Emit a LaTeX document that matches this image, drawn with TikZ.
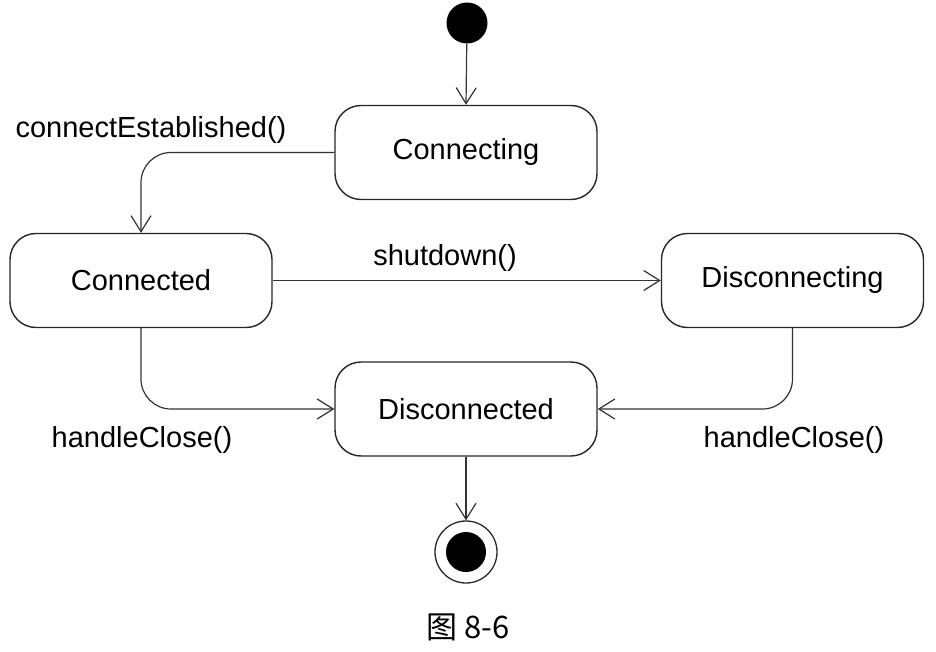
\documentclass[tikz,border=0pt]{standalone}
\usepackage{fontspec}
\setmainfont{Liberation Sans}
\newfontfamily\cjk{Noto Sans CJK SC}
\usetikzlibrary{arrows.meta}
\begin{document}
\begin{tikzpicture}[x=1pt,y=-1pt,
 state/.style={draw=black!85, rounded corners=26pt, minimum width=262pt, minimum height=94pt, line width=1.4pt, font=\fontsize{29}{34}\selectfont, inner sep=0pt},
 trans/.style={draw=black!80, line width=1.2pt, -{Straight Barb[length=16pt,width=20pt,line width=1.2pt]}},
 lbl/.style={font=\fontsize{29}{34}\selectfont, inner sep=0pt}]
\useasboundingbox (0,0) rectangle (936,652);
\node[circle, fill=black, minimum size=41pt, inner sep=0pt] (init) at (467,23) {};
\node[state] (connecting) at (466,152.5) {Connecting};
\node[state] (connected) at (141,280.5) {Connected};
\node[state] (disconnecting) at (792.5,280.5) {Disconnecting};
\node[state] (disconnected) at (466,409) {Disconnected};
\node[circle, draw=black!85, line width=1.3pt, minimum size=62pt, inner sep=0pt] (final) at (466,552) {};
\node[circle, fill=black, minimum size=40pt, inner sep=0pt] (finalin) at (final.center) {};

\draw[trans] (init) -- (connecting.north);
\draw[trans] (disconnected.south) -- (final.north);
\draw[trans, rounded corners=30pt] (connecting.west) -| (connected.north);
\draw[trans] (connected.east) -- (disconnecting.west);
\draw[trans, rounded corners=30pt] (connected.south) |- (disconnected.west);
\draw[trans, rounded corners=30pt] (disconnecting.south) |- (disconnected.east);

\node[lbl] (l1) at (151,130) {connectEstablished()};
\node[lbl] (l2) at (445,258) {shutdown()};
\node[lbl] (l3) at (142,440) {handleClose()};
\node[lbl] (l4) at (794,440) {handleClose()};
\node[font=\cjk\fontsize{31}{36}\selectfont, inner sep=0pt] (cap) at (468,627) {图 8-6};
\end{tikzpicture}
\end{document}
